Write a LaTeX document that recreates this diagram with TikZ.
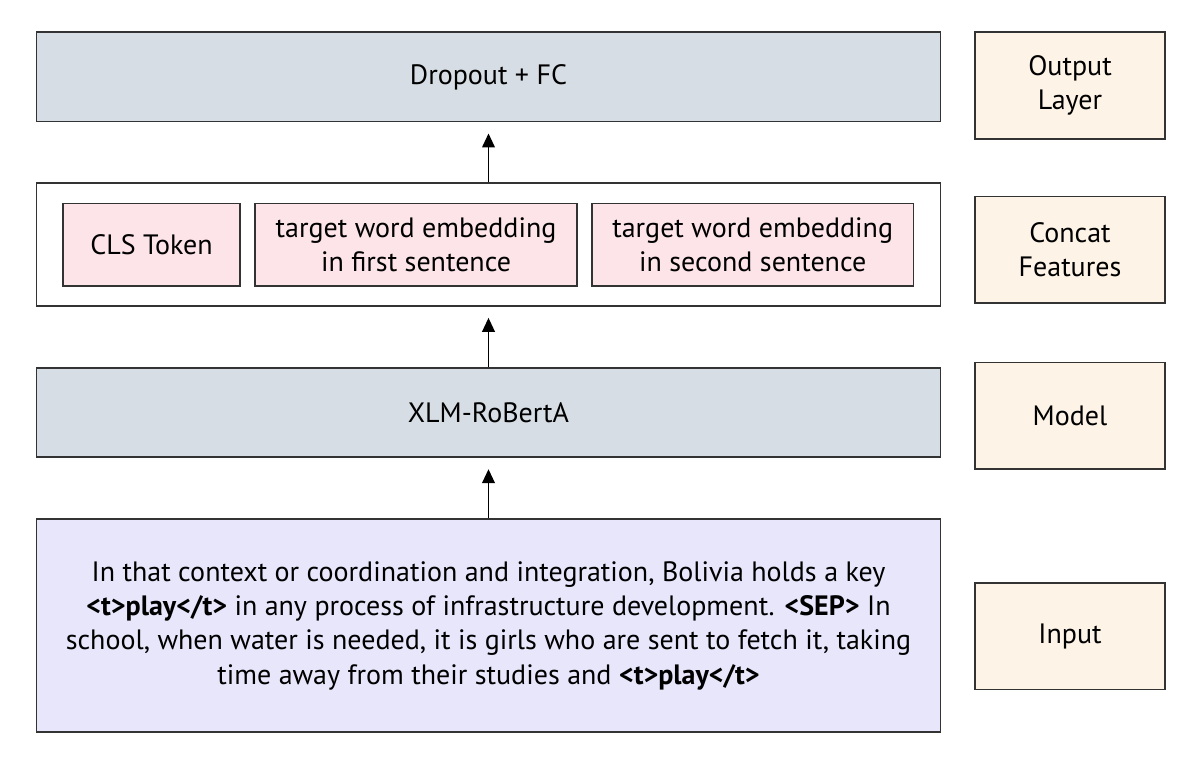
\documentclass[tikz,border=0pt]{standalone}
\usepackage{fontspec}
\setmainfont{PT Sans}
\usetikzlibrary{arrows.meta}
\definecolor{layergrey}{HTML}{D6DDE4}
\definecolor{tokenpink}{HTML}{FCE4E8}
\definecolor{inputlav}{HTML}{E7E6FB}
\definecolor{sidecream}{HTML}{FDF3E6}
\definecolor{edgegrey}{HTML}{333333}
\tikzset{
	box/.style={draw=edgegrey, line width=0.9pt, inner sep=0pt, align=center,
		font=\fontsize{14}{17.1}\selectfont},
	layerbox/.style={box, fill=layergrey, minimum width=452pt, minimum height=44.6pt},
	tokenbox/.style={box, fill=tokenpink, minimum height=41.2pt},
	sidebox/.style={box, fill=sidecream, minimum width=95pt, minimum height=53.2pt},
	uparrow/.style={-{Triangle[length=7pt,width=6.4pt]}, line width=0.7pt, draw=black, shorten >=5.5pt}
}
\begin{document}
\begin{tikzpicture}[x=0.5pt,y=-0.5pt]
			%%%%% START %%%%%
			\useasboundingbox[fill=white] (0,0) rectangle (1198,763);
			
			\node[layerbox] (out) at (488.5, 77) {Dropout + FC};
			
			\node[box, fill=white, minimum width=452pt, minimum height=61.3pt] (concat) at (488.5, 244.7) {};
			\node[tokenbox, minimum width=88.5pt] (cls) at (151.5, 244.8) {CLS Token};
			\node[tokenbox, minimum width=161pt] (emba) at (416, 244.8) {target word embedding\\in first sentence};
			\node[tokenbox, minimum width=160.7pt] (embb) at (752.7, 244.8) {target word embedding\\in second sentence};
			
			\node[layerbox] (model) at (488.5, 412.7) {XLM-RoBertA};
			
			\node[box, fill=inputlav, minimum width=452pt, minimum height=106.6pt] (input) at (488.5, 625.7)
				{In that context or coordination and integration, Bolivia holds a key\\
				\textbf{<t>play</t>} in any process of infrastructure development. \textbf{<SEP>} In\\
				school, when water is needed, it is girls who are sent to fetch it, taking\\
				time away from their studies and \textbf{<t>play</t>}};
			
			\node[sidebox] (outlbl) at (1070, 85.5) {Output\\Layer};
			\node[sidebox] (concatlbl) at (1070, 249.7) {Concat\\Features};
			\node[sidebox] (modellbl) at (1070, 415.8) {Model};
			\node[sidebox] (inputlbl) at (1070, 636.3) {Input};
			
			\draw[uparrow] (input) -- (model);
			\draw[uparrow] (model) -- (concat);
			\draw[uparrow] (concat) -- (out);
			%%%%% END %%%%%
		\end{tikzpicture}
\end{document}
